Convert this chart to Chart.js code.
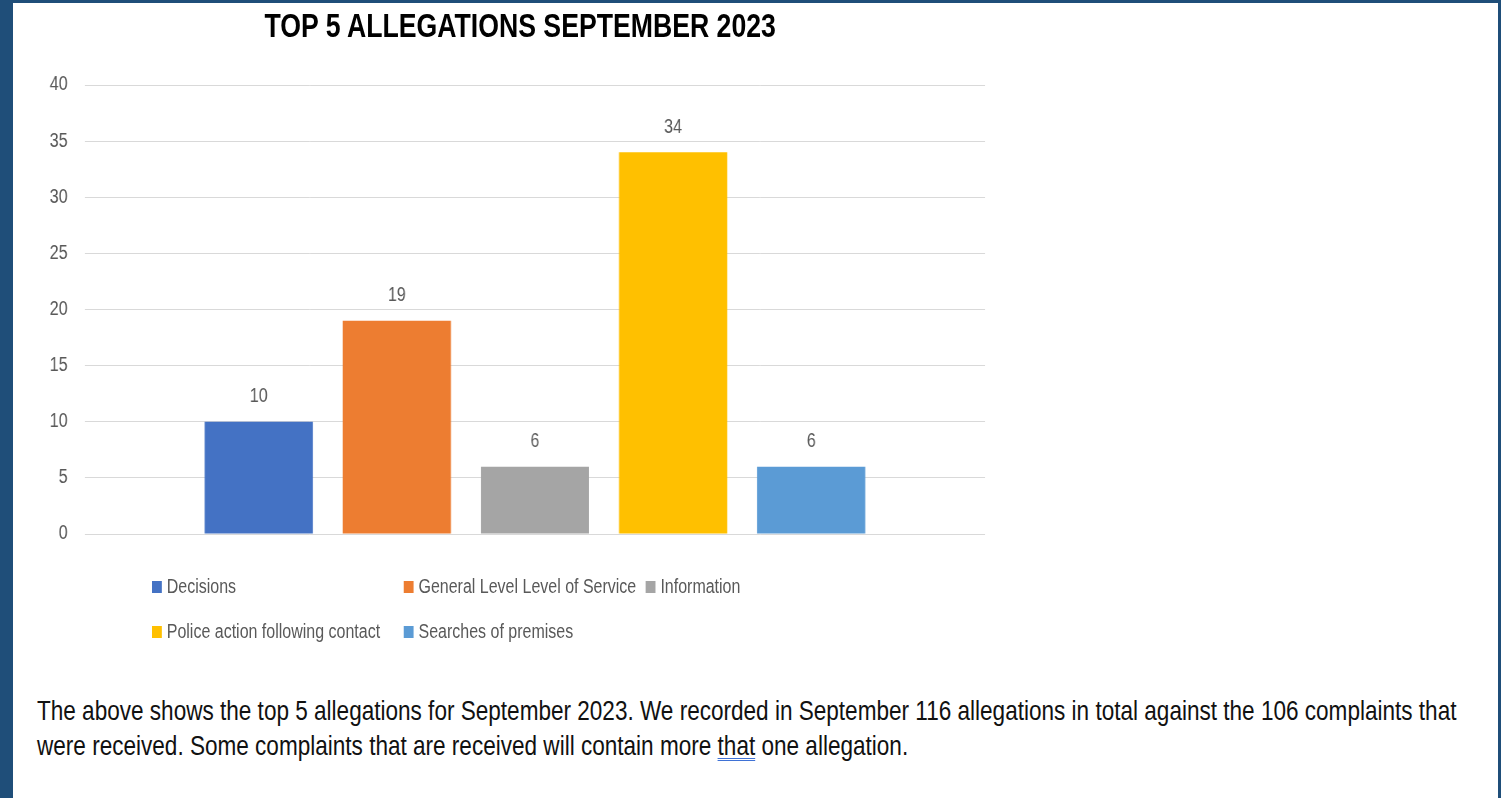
<!DOCTYPE html>
<html>
<head>
<meta charset="utf-8">
<script src="https://cdn.jsdelivr.net/npm/chart.js@4.4.0/dist/chart.umd.min.js"></script>
<style>
  body { margin: 0; background: #1f4e79; width: 1501px; height: 798px; overflow: hidden; }
  .sheet { position: absolute; left: 13px; top: 3px; width: 1485px; height: 795px; background: #fff; }
  /* everything is set in Liberation Sans and squeezed to a narrow face */
  .narrow { transform: scaleX(0.82); transform-origin: 0 0; }
  .title {
    position: absolute; left: 20px; top: 6px; width: 1220px; text-align: center;
    font-family: "Liberation Sans", Arial, sans-serif; font-size: 32.5px; font-weight: bold;
    line-height: 40px; color: #000;
  }
  .chart-box { position: absolute; left: 20px; top: 0; width: 1220px; height: 567px; }
  .legend {
    position: absolute; left: 152px; top: 564px;
    display: grid; grid-template-columns: 307px 295px auto; grid-auto-rows: 45px;
    font-family: "Liberation Sans", Arial, sans-serif; font-size: 19.5px; color: #595959;
  }
  .legend .item { display: flex; align-items: center; white-space: nowrap; }
  .legend i { display: inline-block; flex-shrink: 0; width: 12px; height: 12px; margin-right: 6px; }
  .note {
    position: absolute; left: 37px; top: 693px;
    font-family: "Liberation Sans", Arial, sans-serif; font-size: 27.5px; line-height: 35px;
    color: #111; white-space: nowrap;
  }
  .note u { text-decoration: underline double #3f72d6; text-decoration-thickness: 1px; text-underline-offset: 3px; }
</style>
</head>
<body>
<div class="sheet"></div>
<div class="chart-box narrow"><canvas id="chart" width="1220" height="567"></canvas></div>
<div class="title narrow" id="title"></div>
<div class="legend narrow" id="legend"></div>
<div class="note narrow">
  The above shows the top 5 allegations for September 2023. We recorded in September 116 allegations in total against the 106 complaints that<br>
  were received. Some complaints that are received will contain more <u>that</u> one allegation.
</div>

<script>
const title = "TOP 5 ALLEGATIONS SEPTEMBER 2023";
const allegations = [
  "Decisions",
  "General Level Level of Service",
  "Information",
  "Police action following contact",
  "Searches of premises",
];
const counts = [10, 19, 6, 34, 6];
const colors = ["#4472c4", "#ed7d31", "#a5a5a5", "#ffc000", "#5b9bd5"];
const yTicks = [0, 5, 10, 15, 20, 25, 30, 35, 40];

const sans = '"Liberation Sans", Arial, sans-serif';

// value printed above each bar
const barLabels = {
  id: "barLabels",
  afterDatasetsDraw(chart) {
    const ctx = chart.ctx;
    ctx.save();
    ctx.font = "19.5px " + sans;
    ctx.fillStyle = "#595959";
    ctx.textAlign = "center";
    ctx.textBaseline = "middle";
    chart.data.datasets.forEach((ds, i) => {
      const bar = chart.getDatasetMeta(i).data[0];
      ctx.fillText(String(ds.data[0]), bar.x, bar.y - 25);
    });
    ctx.restore();
  },
};

new Chart(document.getElementById("chart"), {
  type: "bar",
  data: {
    labels: [""],
    datasets: allegations.map((name, i) => ({
      label: name,
      data: [counts[i]],
      backgroundColor: colors[i],
      categoryPercentage: 0.767,
      barPercentage: 0.783,
    })),
  },
  options: {
    responsive: false,
    animation: false,
    layout: { padding: { top: 85, right: 43, bottom: 33, left: 0 } },
    plugins: {
      legend: { display: false },
      tooltip: { enabled: false },
    },
    scales: {
      x: { display: false },
      y: {
        min: yTicks[0],
        max: yTicks[yTicks.length - 1],
        afterBuildTicks: (scale) => {
          scale.ticks = yTicks.map((v) => ({ value: v }));
        },
        afterFit: (scale) => {
          scale.width = 79;
        },
        border: { display: false },
        grid: { color: "#d9d9d9", lineWidth: 1, drawTicks: false },
        ticks: {
          color: "#595959",
          padding: 21,
          font: { family: sans, size: 19.5 },
        },
      },
    },
  },
  plugins: [barLabels],
});

document.getElementById("title").textContent = title;

// legend in fixed columns, wrapping onto a second row
const legend = document.getElementById("legend");
allegations.forEach((name, i) => {
  const item = document.createElement("span");
  item.className = "item";
  const sw = document.createElement("i");
  sw.style.background = colors[i];
  item.appendChild(sw);
  item.appendChild(document.createTextNode(name));
  legend.appendChild(item);
});
</script>
</body>
</html>
